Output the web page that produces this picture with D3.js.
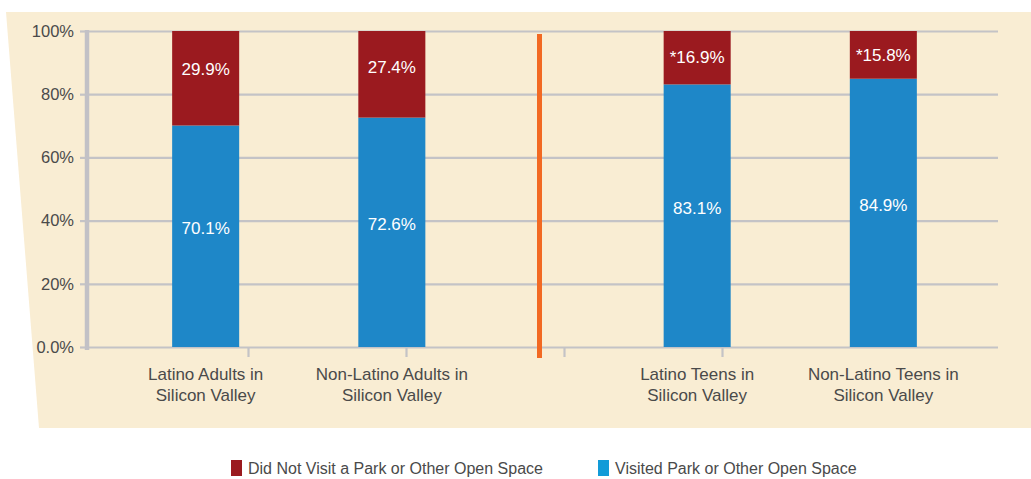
<!DOCTYPE html>
<html>
<head>
<meta charset="utf-8">
<script src="https://cdn.jsdelivr.net/npm/d3@7"></script>
<style>
  body { margin: 0; background: #fff; }
  text { font-family: "Liberation Sans", Arial, sans-serif; }
</style>
</head>
<body>
<div id="chart"></div>
<script>
// data
var categories = ["Latino Adults in|Silicon Valley", "Non-Latino Adults in|Silicon Valley",
                  "Latino Teens in|Silicon Valley", "Non-Latino Teens in|Silicon Valley"]
var groups = ["Adults", "Adults", "Teens", "Teens"]
var visited = [70.1, 72.6, 83.1, 84.9]
var notVisited = [29.9, 27.4, 16.9, 15.8]
var flagged = [false, false, true, true]   // "*" in front of the label
var yTicks = [0, 20, 40, 60, 80, 100]
var yTickLabels = ["0.0%", "20%", "40%", "60%", "80%", "100%"]
var seriesNames = ["Did Not Visit a Park or Other Open Space", "Visited Park or Other Open Space"]
var seriesColors = ["#9b1a1f", "#1e87c8"]
var legendColors = ["#9b1a1f", "#129bd8"]

var W = 1031, H = 479
var plotLeft = 87, plotRight = 998

var svg = d3.select("#chart").append("svg")
  .attr("width", W)
  .attr("height", H)

// beige panel with slanted left edge
svg.append("polygon")
  .attr("points", "6,12 1031,12 1031,428 39,428")
  .style("fill", "#f9edd3")

var y = d3.scaleLinear().domain([0, 100]).range([347, 31]).clamp(true)

var x0 = d3.scaleBand().domain(["Adults", "Teens"]).range([53, 1036])
var x1 = d3.scaleBand().domain([0, 1]).range([0, x0.bandwidth()])
  .paddingInner(0.64).paddingOuter(0.64)

// position inside the group
var count = {}
var rows = categories.map(function(c, i) {
  var g = groups[i]
  count[g] = (count[g] || 0)
  var k = count[g]++
  return { name: c, group: g, k: k, visited: visited[i], not: notVisited[i], flag: flagged[i] }
})
function bx(d) { return x0(d.group) + x1(d.k) }

// grid lines
var grid = svg.append("g")
  .attr("transform", "translate(" + plotLeft + ",0)")
  .call(d3.axisRight(y).tickValues(yTicks).tickSize(plotRight - plotLeft).tickFormat(""))
grid.select(".domain").remove()
grid.selectAll("line").style("stroke", "#c4c3c6").style("stroke-width", 2.2)

// y axis
var yAxis = svg.append("g")
  .attr("transform", "translate(" + plotLeft + ",0)")
  .call(d3.axisLeft(y).tickValues(yTicks).tickSize(7).tickPadding(6)
    .tickFormat(function(d, i) { return yTickLabels[i] }))
yAxis.select(".domain").remove()
yAxis.selectAll("line").style("stroke", "#c4c3c6").style("stroke-width", 2.2)
yAxis.selectAll("text").style("font-size", "16.5px").style("fill", "#4a4a4a")
  .style("font-family", '"Liberation Sans", Arial, sans-serif')

svg.append("line")
  .attr("x1", plotLeft).attr("x2", plotLeft)
  .attr("y1", y(100) - 1).attr("y2", y(0) + 3)
  .style("stroke", "#c2c1c6").style("stroke-width", 4.5)

// x axis ticks (evenly spaced marks under the baseline)
var tickScale = d3.scaleLinear().domain([0, 6]).range([90, 1038])
var xAxis = svg.append("g")
  .attr("transform", "translate(0," + y(0) + ")")
  .call(d3.axisBottom(tickScale).tickValues([1, 2, 3, 4]).tickSize(10).tickFormat(""))
xAxis.select(".domain").remove()
xAxis.selectAll("line").style("stroke", "#c4c3c6").style("stroke-width", 2.2)

// bars
var bars = svg.append("g")
bars.selectAll(".vis")
  .data(rows).enter().append("rect")
  .attr("class", "vis")
  .attr("x", bx)
  .attr("width", x1.bandwidth())
  .attr("y", function(d) { return y(d.visited) })
  .attr("height", function(d) { return y(0) - y(d.visited) })
  .style("fill", seriesColors[1])

bars.selectAll(".not")
  .data(rows).enter().append("rect")
  .attr("class", "not")
  .attr("x", bx)
  .attr("width", x1.bandwidth())
  .attr("y", function(d) { return y(d.visited + d.not) })
  .attr("height", function(d) { return y(d.visited) - y(d.visited + d.not) })
  .style("fill", seriesColors[0])

// value labels
bars.selectAll(".lv")
  .data(rows).enter().append("text")
  .attr("x", function(d) { return bx(d) + x1.bandwidth() / 2 })
  .attr("y", function(d) { return (y(d.visited) + y(0)) / 2 - 8 })
  .attr("dy", "0.35em")
  .attr("text-anchor", "middle")
  .style("fill", "#fff").style("font-size", "17px")
  .text(function(d) { return d.visited.toFixed(1) + "%" })

bars.selectAll(".ln")
  .data(rows).enter().append("text")
  .attr("x", function(d) { return bx(d) + x1.bandwidth() / 2 })
  .attr("y", function(d) {
    var t = y(d.visited + d.not), b = y(d.visited)
    return t + 10 + (b - t) * 0.3
  })
  .attr("dy", "0.35em")
  .attr("text-anchor", "middle")
  .style("fill", "#fff").style("font-size", "17px")
  .text(function(d) { return (d.flag ? "*" : "") + d.not.toFixed(1) + "%" })

// orange divider between the groups
svg.append("line")
  .attr("x1", x0("Teens") - 5).attr("x2", x0("Teens") - 5)
  .attr("y1", 34).attr("y2", 358)
  .style("stroke", "#f26922").style("stroke-width", 5)

// category labels
var cl = svg.append("g").selectAll("text")
  .data(rows).enter().append("text")
  .attr("text-anchor", "middle")
  .style("font-size", "17px").style("fill", "#4a4a4a")
cl.selectAll("tspan")
  .data(function(d) {
    return d.name.split("|").map(function(s) { return { s: s, cx: bx(d) + x1.bandwidth() / 2 } })
  })
  .enter().append("tspan")
  .attr("x", function(d) { return d.cx })
  .attr("y", function(d, i) { return 380 + i * 21 })
  .text(function(d) { return d.s })

// legend
var legX = [231, 598]
var leg = svg.append("g").selectAll("g")
  .data(seriesNames).enter().append("g")
  .attr("transform", function(d, i) { return "translate(" + legX[i] + ",460)" })
leg.append("rect")
  .attr("width", 11).attr("height", 16)
  .style("fill", function(d, i) { return legendColors[i] })
leg.append("text")
  .attr("x", 17).attr("y", 13.5)
  .style("font-size", "16px").style("fill", "#4a4a4a")
  .text(function(d) { return d })
</script>
</body>
</html>
